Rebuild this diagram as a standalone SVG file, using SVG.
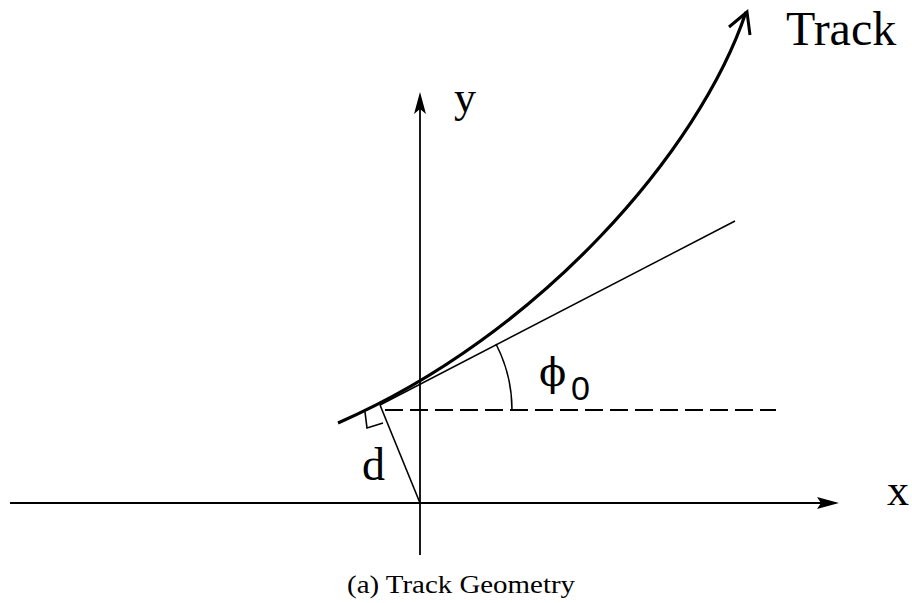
<svg xmlns="http://www.w3.org/2000/svg" width="912" height="603" viewBox="0 0 912 603">
<style>
.ln{fill:none;stroke:#000;stroke-linecap:butt}
.t{font-family:"Liberation Serif","Times New Roman",serif;fill:#000}
</style>
<rect width="912" height="603" fill="#fff"/>
<g id="axes">
<line class="ln" x1="10" y1="503" x2="836" y2="503" stroke-width="1.8"/>
<polygon points="839,503 817,497 821,503 817,509" fill="#000"/>
<line class="ln" x1="420" y1="96" x2="420" y2="555" stroke-width="1.8"/>
<polygon points="420,92 414,114 420,109 426,114" fill="#000"/>
</g>
<g id="connectors">
<path id="track" class="ln" d="M338,423 C540,335 700,150 746,12" stroke-width="3.2"/>
<polyline class="ln" points="729,27 747,12 750,35" stroke-width="3"/>
<line id="tangent" class="ln" x1="380" y1="405" x2="735" y2="221" stroke-width="1.5"/>
<line id="dashed" class="ln" x1="385" y1="410" x2="776" y2="410" stroke-width="1.8" stroke-dasharray="18,7"/>
<line id="perp" class="ln" x1="380" y1="405" x2="420" y2="503" stroke-width="1.6"/>
<polyline class="ln" points="365,412 367,428 383,423" stroke-width="1.6"/>
<path id="arc" class="ln" d="M512,410 A144,144 0 0 0 496,344" stroke-width="1.5"/>
</g>
<g id="labels">
<text class="t" x="786" y="45" font-size="48">Track</text>
<text class="t" x="454" y="112" font-size="44">y</text>
<text class="t" x="887" y="505" font-size="44">x</text>
<text class="t" x="362" y="480" font-size="46">d</text>
<text x="539" y="386" font-size="40" font-family="DejaVu Serif, serif">ϕ</text>
<text x="571" y="400" font-size="34" font-family="Liberation Sans, Arial, sans-serif">0</text>
<text class="t" x="347" y="593" font-size="26" textLength="228" lengthAdjust="spacingAndGlyphs">(a)  Track Geometry</text>
</g>
</svg>
